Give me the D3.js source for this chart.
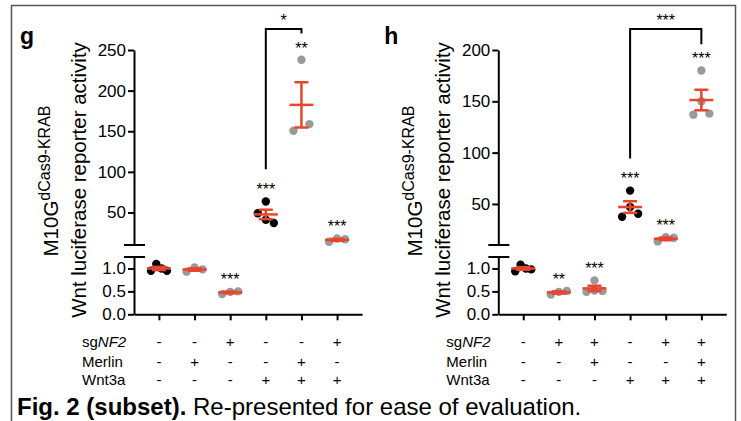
<!DOCTYPE html>
<html>
<head>
<meta charset="utf-8">
<script src="https://cdn.jsdelivr.net/npm/d3@7"></script>
<style>
  body { margin: 0; background: #fff; }
  svg { display: block; font-family: "Liberation Sans", Arial, sans-serif; }
</style>
</head>
<body>
<div id="chart"></div>
<script>
// row labels of the condition table
const rowLabels = ["sg", "Merlin", "Wnt3a"];

// panel g
const gSigns = [
  ["-", "-", "+", "-", "-", "+"],
  ["-", "+", "-", "-", "+", "-"],
  ["-", "-", "-", "+", "+", "+"]
];
const gPoints = [
  [0.95, 1.1, 1.0, 0.95],
  [0.93, 1.02, 0.98],
  [0.44, 0.49, 0.5],
  [63.5, 49, 41, 37],
  [150.6, 238, 158.8],
  [14, 18, 17]
];
const gGroup = ["ctrl", "test", "test", "ctrl", "test", "test"];
const gStars = ["", "", "***", "***", "**", "***"];
const gTicks = [50, 100, 150, 200, 250];
const gMax = 250;
const gBracket = [3, 4, "*"];

// panel h
const hSigns = [
  ["-", "+", "+", "-", "+", "+"],
  ["-", "-", "+", "-", "-", "+"],
  ["-", "-", "-", "+", "+", "+"]
];
const hPoints = [
  [0.94, 1.08, 1.0, 0.98],
  [0.43, 0.49, 0.51],
  [0.49, 0.74, 0.52, 0.51],
  [63, 37.5, 47, 40.5],
  [13.5, 17.5, 17],
  [180, 137, 150, 138]
];
const hGroup = ["ctrl", "test", "test", "ctrl", "test", "test"];
const hStars = ["", "**", "***", "***", "***", "***"];
const hTicks = [50, 100, 150, 200];
const hMax = 200;
const hBracket = [3, 5, "***"];

// shared broken axis
const lowerTicks = [0, 0.5, 1.0];
const lowerMax = 1.25;
const breakValue = 10;

const W = 741, H = 421;
const red = "#e8452e";
const dotColor = d3.scaleOrdinal().domain(["ctrl", "test"]).range(["#000", "#9a9a9a"]);

const svg = d3.select("#chart").append("svg")
  .attr("width", W)
  .attr("height", H)
  .attr("viewBox", "0 0 " + W + " " + H);

// frame
svg.append("rect")
  .attr("x", 11.5).attr("y", 5.5)
  .attr("width", 724).attr("height", 440)
  .attr("fill", "none")
  .attr("stroke", "#555")
  .attr("stroke-width", 1.5);

// spread dots that sit close together in y sideways (scatter dot plot look)
function spread(vals, yOf) {
  const ys = vals.map(yOf);
  const order = d3.range(vals.length).sort((a, b) => ys[a] - ys[b]);
  const off = new Array(vals.length).fill(0);
  let cluster = [order[0]];
  const flush = () => {
    const idx = cluster.slice().sort((a, b) => a - b);
    const n = idx.length;
    idx.forEach((k, j) => { off[k] = n > 1 ? -8 + 16 * j / (n - 1) : 0; });
  };
  for (let i = 1; i < order.length; i++) {
    if (ys[order[i]] - ys[order[i - 1]] < 10) cluster.push(order[i]);
    else { flush(); cluster = [order[i]]; }
  }
  flush();
  return off;
}

function drawPanel(letter, x0, signs, points, group, stars, ticks, yMax, bracket) {
  const g = svg.append("g");

  const x = d3.scalePoint().domain(d3.range(points.length)).range([x0, x0 + 228]).padding(0.7);
  const yU = d3.scaleLinear().domain([breakValue, yMax]).range([245, 50]);
  const yL = d3.scaleLinear().domain([0, lowerMax]).range([314.3, 257]);
  const yOf = v => v > 5 ? yU(v) : yL(v);

  // axes
  const axU = g.append("g").attr("transform", `translate(${x0},0)`)
    .call(d3.axisLeft(yU).tickValues(ticks).tickSize(6).tickPadding(2).tickSizeOuter(0));
  const axL = g.append("g").attr("transform", `translate(${x0},0)`)
    .call(d3.axisLeft(yL).tickValues(lowerTicks).tickFormat(d3.format(".1f")).tickSize(6).tickPadding(2).tickSizeOuter(0));
  const axX = g.append("g").attr("transform", "translate(0,314.3)")
    .call(d3.axisBottom(x).tickSize(6).tickFormat("").tickSizeOuter(0));
  [axU, axL, axX].forEach(a => {
    a.selectAll("path, line").attr("stroke", "#000").attr("stroke-width", 2);
    a.selectAll("text").attr("fill", "#000").style("font-size", "17px");
  });

  // break marks
  g.selectAll(".brk").data([breakValue, lowerMax]).join("line")
    .attr("x1", x0 - 10).attr("x2", x0 + 11)
    .attr("y1", (d, i) => i ? yL(d) : yU(d))
    .attr("y2", (d, i) => i ? yL(d) : yU(d))
    .attr("stroke", "#000").attr("stroke-width", 2);

  // y title
  const t1 = g.append("text")
    .attr("transform", `translate(${x0 - 76},181) rotate(-90)`)
    .attr("text-anchor", "middle")
    .attr("fill", "#000");
  t1.append("tspan").style("font-size", "20.5px").text("M10G");
  t1.append("tspan").style("font-size", "16px").attr("dy", -8).text("dCas9-KRAB");
  g.append("text")
    .attr("transform", `translate(${x0 - 48},180) rotate(-90)`)
    .attr("text-anchor", "middle")
    .style("font-size", "20.5px")
    .attr("fill", "#000")
    .text("Wnt luciferase reporter activity");

  // panel letter
  g.append("text")
    .attr("x", x0 - 114).attr("y", 44)
    .style("font-size", "23px").style("font-weight", "bold")
    .text(letter);

  // dots
  const nodes = points.flatMap((vals, c) => {
    const off = spread(vals, yOf);
    return vals.map((v, i) => ({c, v, x: x(c) + off[i], y: yOf(v)}));
  });
  g.append("g").selectAll("circle").data(nodes).join("circle")
    .attr("cx", d => d.x)
    .attr("cy", d => d.y)
    .attr("r", 4.2)
    .attr("fill", d => dotColor(group[d.c]));

  // mean +/- SEM
  const stats = points.map((vals, c) => {
    const m = d3.mean(vals);
    const s = d3.deviation(vals) / Math.sqrt(vals.length);
    return {c, m, lo: m - s, hi: m + s};
  });
  const eb = g.append("g").attr("stroke", red).attr("stroke-width", 2.5).attr("fill", "none");
  eb.selectAll(".v").data(stats).join("line")
    .attr("x1", d => x(d.c)).attr("x2", d => x(d.c))
    .attr("y1", d => yOf(d.lo)).attr("y2", d => yOf(d.hi));
  eb.selectAll(".capHi").data(stats).join("line")
    .attr("x1", d => x(d.c) - 7).attr("x2", d => x(d.c) + 7)
    .attr("y1", d => yOf(d.hi)).attr("y2", d => yOf(d.hi));
  eb.selectAll(".capLo").data(stats).join("line")
    .attr("x1", d => x(d.c) - 7).attr("x2", d => x(d.c) + 7)
    .attr("y1", d => yOf(d.lo)).attr("y2", d => yOf(d.lo));
  eb.selectAll(".mean").data(stats).join("line")
    .attr("x1", d => x(d.c) - 12).attr("x2", d => x(d.c) + 12)
    .attr("y1", d => yOf(d.m)).attr("y2", d => yOf(d.m));

  // significance stars
  const starBase = stats.map((d, c) => Math.min(yOf(d.hi), d3.min(points[c], v => yOf(v) - 4.2)) - 2);
  g.selectAll(".star").data(stars).join("text")
    .attr("x", (d, c) => x(c))
    .attr("y", (d, c) => starBase[c])
    .attr("text-anchor", "middle")
    .style("font-size", "16px")
    .text(d => d);

  // bracket
  const [b0, b1, bLabel] = bracket;
  const bTop = 29;
  g.append("path")
    .attr("d", `M${x(b0)},${starBase[b0] - 26}V${bTop}H${x(b1)}V${starBase[b1] - 20}`)
    .attr("fill", "none").attr("stroke", "#000").attr("stroke-width", 2);
  g.append("text")
    .attr("x", (x(b0) + x(b1)) / 2).attr("y", bTop - 3)
    .attr("text-anchor", "middle")
    .style("font-size", "16px")
    .text(bLabel);

  // condition table
  const rowY = [347, 366.5, 385];
  rowLabels.forEach((lab, r) => {
    const t = g.append("text").attr("x", x0 - 52).attr("y", rowY[r]).style("font-size", "15px");
    t.append("tspan").text(lab);
    if (r === 0) t.append("tspan").style("font-style", "italic").text("NF2");
    g.selectAll(".sign" + r).data(signs[r]).join("text")
      .attr("x", (d, c) => x(c))
      .attr("y", rowY[r])
      .attr("text-anchor", "middle")
      .style("font-size", "15px")
      .text(d => d);
  });
}

drawPanel("g", 134, gSigns, gPoints, gGroup, gStars, gTicks, gMax, gBracket);
drawPanel("h", 498.3, hSigns, hPoints, hGroup, hStars, hTicks, hMax, hBracket);

// caption
const cap = svg.append("text").attr("x", 17).attr("y", 415).style("font-size", "24px");
cap.append("tspan").style("font-weight", "bold").text("Fig. 2 (subset).");
cap.append("tspan").text(" Re-presented for ease of evaluation.");
</script>
</body>
</html>
